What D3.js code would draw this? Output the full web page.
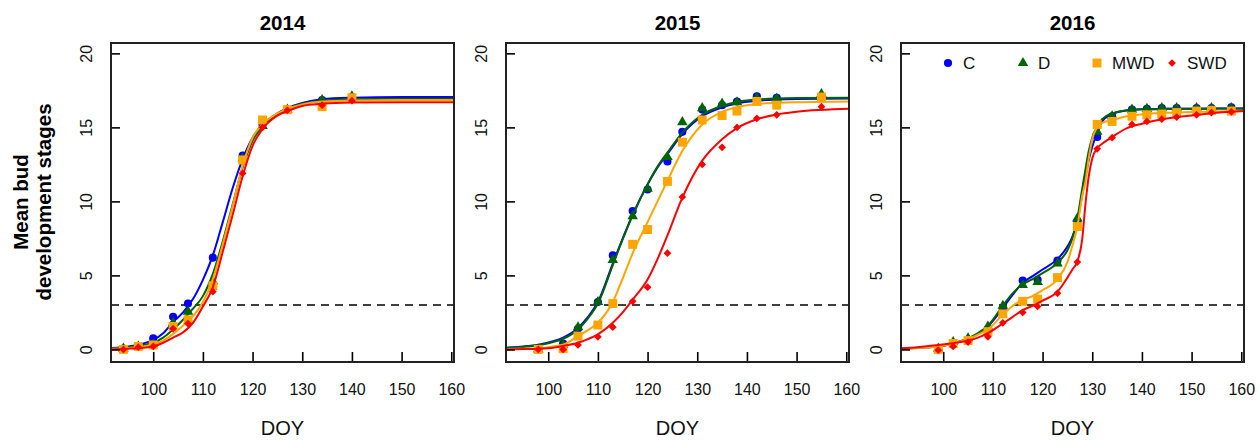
<!DOCTYPE html>
<html>
<head>
<meta charset="utf-8">
<script src="https://cdn.jsdelivr.net/npm/d3@7"></script>
<style>
  body { margin: 0; background: #fff; }
  svg { display: block; font-family: Arial, "Liberation Sans", sans-serif; }
</style>
</head>
<body>
<svg id="chart" width="1260" height="440"></svg>
<script>
// ---- data ----
const years = ['2014', '2015', '2016'];
const treatments = ['C', 'D', 'MWD', 'SWD'];
const xTicks = [100, 110, 120, 130, 140, 150, 160];
const yTicks = [0, 5, 10, 15, 20];
const threshold = 3;

// observed means
const obsDoy2014 = [94, 97, 100, 104, 107, 112, 118, 122, 127, 134, 140];
const obsC2014   = [0.05, 0.2, 0.75, 2.2, 3.1, 6.2, 13.1, 15.2, 16.2, 16.85, 17.05];
const obsD2014   = [0.05, 0.2, 0.35, 1.8, 2.55, 4.6, 12.9, 15.1, 16.2, 16.85, 17.1];
const obsMWD2014 = [0.0, 0.2, 0.3, 1.55, 2.0, 4.3, 12.8, 15.5, 16.2, 16.4, 17.0];
const obsSWD2014 = [0.0, 0.15, 0.2, 1.4, 1.75, 3.9, 11.9, 15.0, 16.15, 16.5, 16.8];

const obsDoy2015 = [98, 103, 106, 110, 113, 117, 120, 124, 127, 131, 135, 138, 142, 146, 155];
const obsC2015   = [0.0, 0.4, 1.4, 3.2, 6.35, 9.35, 10.8, 12.7, 14.7, 16.2, 16.5, 16.75, 17.1, 17.0, 17.1];
const obsD2015   = [0.0, 0.3, 1.5, 3.2, 6.05, 9.0, 10.85, 13.0, 15.35, 16.3, 16.6, 16.7, 17.0, 16.95, 17.25];
const obsMWD2015 = [0.0, 0.05, 0.9, 1.65, 3.1, 7.1, 8.1, 11.35, 14.0, 15.5, 15.8, 16.1, 16.75, 16.5, 17.05];
const obsSWD2015 = [0.0, 0.0, 0.3, 0.85, 1.5, 3.25, 4.2, 6.5, 10.3, 12.5, 13.65, 15.0, 15.6, 15.85, 16.4];

const obsDoy2016 = [99, 102, 105, 109, 112, 116, 119, 123, 127, 131, 134, 138, 141, 144, 147, 151, 154, 158];
const obsC2016   = [0.0, 0.4, 0.6, 1.4, 2.75, 4.65, 4.7, 6.0, 8.65, 14.35, 15.75, 16.2, 16.25, 16.3, 16.3, 16.3, 16.3, 16.35];
const obsD2016   = [0.05, 0.5, 0.75, 1.55, 2.95, 4.35, 4.55, 5.8, 8.85, 14.7, 15.75, 16.2, 16.25, 16.3, 16.3, 16.3, 16.3, 16.3];
const obsMWD2016 = [0.0, 0.4, 0.6, 1.2, 2.4, 3.25, 3.4, 4.85, 8.3, 15.2, 15.4, 15.75, 15.85, 15.9, 16.0, 16.1, 16.15, 16.1];
const obsSWD2016 = [-0.05, 0.2, 0.5, 0.85, 1.8, 2.5, 2.9, 3.8, 5.9, 13.55, 14.3, 15.2, 15.4, 15.55, 15.7, 15.85, 16.0, 16.05];

// fitted curves
const fitDoy2014 = [91.6, 95, 98, 100, 102, 104, 106, 108, 110, 112, 114, 116, 118, 120, 122, 125, 127, 130, 134, 140, 150, 160.6];
const fitC2014   = [0.1, 0.2, 0.4, 0.65, 1.1, 1.85, 2.5, 3.4, 4.7, 6.35, 8.6, 10.9, 12.85, 14.3, 15.15, 15.95, 16.3, 16.65, 16.9, 17.0, 17.05, 17.05];
const fitD2014   = [0.05, 0.15, 0.3, 0.45, 0.8, 1.35, 2.0, 2.75, 3.6, 5.1, 7.3, 9.8, 12.3, 14.1, 15.05, 15.9, 16.25, 16.6, 16.8, 16.9, 16.93, 16.93];
const fitMWD2014 = [0.05, 0.1, 0.2, 0.35, 0.6, 1.05, 1.6, 2.25, 3.2, 4.75, 7.1, 9.7, 12.4, 14.3, 15.2, 15.95, 16.25, 16.55, 16.75, 16.82, 16.85, 16.85];
const fitSWD2014 = [0.0, 0.05, 0.12, 0.2, 0.45, 0.8, 1.15, 1.8, 2.9, 4.2, 6.6, 9.1, 11.7, 13.75, 14.9, 15.8, 16.1, 16.45, 16.6, 16.68, 16.7, 16.7];

const fitDoy2015 = [91.5, 95, 98, 101, 103, 106, 108, 110, 113, 115, 117, 120, 122, 124, 127, 131, 135, 138, 142, 146, 150, 160.6];
const fitC2015   = [0.12, 0.2, 0.32, 0.55, 0.8, 1.45, 2.2, 3.2, 5.8, 7.5, 9.1, 11.15, 12.3, 13.2, 14.55, 15.75, 16.35, 16.62, 16.8, 16.88, 16.92, 16.95];
const fitD2015   = [0.1, 0.17, 0.28, 0.5, 0.72, 1.35, 2.1, 3.1, 5.7, 7.45, 9.05, 11.15, 12.35, 13.3, 14.65, 15.85, 16.45, 16.72, 16.88, 16.95, 16.98, 17.0];
const fitMWD2015 = [0.02, 0.05, 0.08, 0.2, 0.32, 0.9, 1.3, 1.8, 3.2, 4.8, 6.5, 8.6, 10.0, 11.4, 13.4, 15.2, 16.05, 16.37, 16.58, 16.66, 16.7, 16.75];
const fitSWD2015 = [0.0, 0.02, 0.05, 0.12, 0.23, 0.45, 0.7, 1.02, 1.8, 2.5, 3.36, 4.72, 6.1, 7.7, 10.25, 12.75, 14.2, 14.95, 15.55, 15.87, 16.05, 16.25];

const fitDoy2016 = [91.5, 95, 99, 102, 105, 107, 109, 112, 114, 116, 118, 120, 123, 125, 126, 127, 128, 128.6, 129.3, 130, 131, 132, 134, 137, 140, 145, 150, 155, 160.6];
const fitC2016   = [0.05, 0.12, 0.2, 0.4, 0.7, 1.05, 1.55, 2.8, 3.7, 4.5, 4.95, 5.4, 6.1, 6.95, 7.6, 8.7, 10.5, 11.6, 12.8, 13.7, 14.6, 15.4, 15.9, 16.15, 16.22, 16.25, 16.26, 16.27, 16.27];
const fitD2016   = [0.05, 0.12, 0.22, 0.42, 0.75, 1.1, 1.6, 2.95, 3.8, 4.4, 4.75, 5.15, 5.85, 6.7, 7.5, 8.85, 10.9, 12.1, 13.4, 14.3, 15.05, 15.55, 15.95, 16.15, 16.22, 16.25, 16.26, 16.27, 16.27];
const fitMWD2016 = [0.03, 0.1, 0.2, 0.38, 0.72, 1.0, 1.35, 2.35, 2.95, 3.35, 3.6, 4.0, 4.75, 5.9, 7.0, 8.3, 10.4, 11.3, 12.9, 14.2, 15.0, 15.3, 15.5, 15.75, 15.88, 15.98, 16.04, 16.08, 16.1];
const fitSWD2016 = [0.07, 0.15, 0.3, 0.42, 0.6, 0.8, 1.1, 1.75, 2.2, 2.65, 2.95, 3.3, 3.9, 4.85, 5.4, 5.95, 7.5, 9.7, 11.7, 12.9, 13.6, 13.9, 14.35, 14.95, 15.25, 15.6, 15.8, 15.98, 16.1];

const obsDoy = [obsDoy2014, obsDoy2015, obsDoy2016];
const obsVals = [
  [obsC2014, obsD2014, obsMWD2014, obsSWD2014],
  [obsC2015, obsD2015, obsMWD2015, obsSWD2015],
  [obsC2016, obsD2016, obsMWD2016, obsSWD2016]
];
const fitDoy = [fitDoy2014, fitDoy2015, fitDoy2016];
const fitVals = [
  [fitC2014, fitD2014, fitMWD2014, fitSWD2014],
  [fitC2015, fitD2015, fitMWD2015, fitSWD2015],
  [fitC2016, fitD2016, fitMWD2016, fitSWD2016]
];

// ---- styling ----
const colors = ['#0000ff', '#006400', '#ffa500', '#ff0000'];
const symbols = [
  d3.symbol().type(d3.symbolCircle).size(52),
  d3.symbol().type(d3.symbolTriangle).size(48),
  d3.symbol().type(d3.symbolSquare).size(80),
  d3.symbol().type(d3.symbolSquare).size(30)
];
const symbolRotate = [0, 0, 0, 45];

const panel = { left: 111, step: 395, width: 343, top: 43, bottom: 362 };

const svg = d3.select('#chart');

// y axis title
const ytitle = svg.append('g')
  .attr('transform', 'translate(0,202) rotate(-90)')
  .style('font-weight', 'bold')
  .style('font-size', '20.5px')
  .attr('text-anchor', 'middle');
ytitle.append('text').attr('x', 0).attr('y', 28).text('Mean bud');
ytitle.append('text').attr('x', 0).attr('y', 51).text('development stages');

years.forEach((year, p) => {
  const x0 = panel.left + p * panel.step;
  const x = d3.scaleLinear().domain([91.5, 160.55]).range([x0, x0 + panel.width]);
  const y = d3.scaleLinear().domain([-0.85, 20.7]).range([panel.bottom, panel.top]);

  const g = svg.append('g').attr('class', 'panel');

  // threshold line
  g.append('line')
    .attr('x1', x.range()[0]).attr('x2', x.range()[1])
    .attr('y1', y(threshold)).attr('y2', y(threshold))
    .attr('stroke', '#000')
    .attr('stroke-width', 1.6)
    .attr('stroke-dasharray', '8,6');

  const line = d3.line()
    .x(d => x(d[0]))
    .y(d => y(d[1]))
    .curve(d3.curveMonotoneX);

  treatments.forEach((t, s) => {
    const pts = obsDoy[p].map((d, i) => [d, obsVals[p][s][i]]);
    g.append('g')
      .selectAll('path')
      .data(pts)
      .join('path')
        .attr('d', symbols[s])
        .attr('fill', colors[s])
        .attr('transform', d => `translate(${x(d[0])},${y(d[1])}) rotate(${symbolRotate[s]})`);

    const curve = fitDoy[p].map((d, i) => [d, fitVals[p][s][i]]);
    g.append('path')
      .datum(curve)
      .attr('d', line)
      .attr('fill', 'none')
      .attr('stroke', colors[s])
      .attr('stroke-width', 2);
  });

  // axes (ticks pointing inward)
  g.append('g')
    .attr('transform', `translate(0,${panel.bottom})`)
    .call(d3.axisBottom(x).tickValues(xTicks).tickSizeInner(-10).tickSizeOuter(0).tickPadding(22))
    .call(a => a.select('.domain').remove())
    .call(a => a.selectAll('line').attr('stroke-width', 1.6))
    .call(a => a.selectAll('text').style('font-size', '16px').attr('fill', '#111').attr('font-family', null));

  const ya = g.append('g')
    .attr('transform', `translate(${x0},0)`)
    .call(d3.axisLeft(y).tickValues(yTicks).tickSizeInner(-9).tickSizeOuter(0).tickPadding(0))
    .call(a => a.select('.domain').remove())
    .call(a => a.selectAll('line').attr('stroke-width', 1.6));
  ya.selectAll('text')
    .attr('x', null).attr('dy', null)
    .attr('text-anchor', 'middle')
    .attr('transform', 'translate(-17,0) rotate(-90)')
    .attr('dy', '-0.1em')
    .attr('y', 0)
    .style('font-size', '16px')
    .attr('fill', '#111')
    .attr('font-family', null);

  // frame
  g.append('rect')
    .attr('x', x0).attr('y', panel.top)
    .attr('width', panel.width).attr('height', panel.bottom - panel.top)
    .attr('fill', 'none')
    .attr('stroke', '#222')
    .attr('stroke-width', 2);

  // title and x label
  g.append('text')
    .attr('x', x0 + panel.width / 2).attr('y', 30)
    .attr('text-anchor', 'middle')
    .style('font-weight', 'bold')
    .style('font-size', '20.5px')
    .text(year);

  g.append('text')
    .attr('x', x0 + panel.width / 2).attr('y', 435)
    .attr('text-anchor', 'middle')
    .style('font-size', '20px')
    .attr('fill', '#111')
    .text('DOY');

  // legend in last panel
  if (p === 2) {
    const legX = [948, 1023, 1097, 1172];
    const leg = g.append('g');
    treatments.forEach((t, s) => {
      leg.append('path')
        .attr('d', symbols[s])
        .attr('fill', colors[s])
        .attr('transform', `translate(${legX[s]},63) rotate(${symbolRotate[s]})`);
      leg.append('text')
        .attr('x', legX[s] + 15).attr('y', 69)
        .style('font-size', '17px')
        .attr('fill', '#111')
        .text(t);
    });
  }
});
</script>
</body>
</html>
